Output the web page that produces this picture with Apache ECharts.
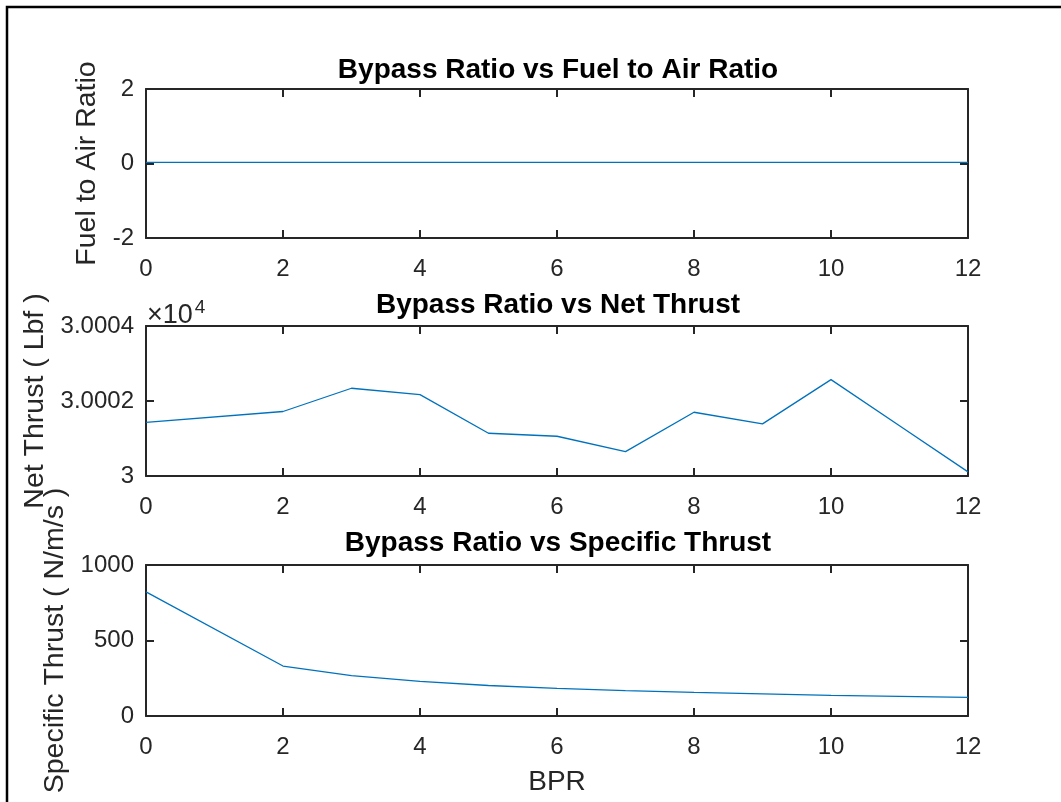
<!DOCTYPE html>
<html>
<head>
<meta charset="utf-8">
<title>Bypass Ratio plots</title>
<script src="https://cdn.jsdelivr.net/npm/echarts@6/dist/echarts.min.js"></script>
<style>
  html, body { margin: 0; padding: 0; background: #fff; }
  #chart { width: 1061px; height: 802px; }
</style>
</head>
<body>
<div id="chart"></div>
<script>
// BPR values shared by all three subplots
const bpr = [0, 2, 3, 4, 5, 6, 7, 8, 9, 10, 11, 12];
const fuelAirRatio = [0.028, 0.028, 0.028, 0.028, 0.028, 0.028, 0.028, 0.028, 0.028, 0.028, 0.028, 0.028];
const netThrust = [30001.43, 30001.72, 30002.34, 30002.17, 30001.14, 30001.06, 30000.65, 30001.70, 30001.39, 30002.57, 30001.34, 30000.11];
const specificThrust = [822, 331, 268, 229, 202, 183, 168, 156, 146, 137, 130, 124];

const titles = ['Bypass Ratio vs Fuel to Air Ratio', 'Bypass Ratio vs Net Thrust', 'Bypass Ratio vs Specific Thrust'];
const yNames = ['Fuel to Air Ratio', 'Net Thrust ( Lbf )', 'Specific Thrust ( N/m/s )'];
const xName = 'BPR';
const netTickLabels = { 30000: '3', 30002: '3.0002', 30004: '3.0004' };

const axisColor = '#262626';
const lineColor = '#0072BD';
const font = 'Liberation Sans, Arial, Helvetica, sans-serif';

const grids = [
    { left: 146, top: 89, width: 822, height: 149 },
    { left: 146, top: 326, width: 822, height: 150 },
    { left: 146, top: 565, width: 822, height: 151 }
];
const yRanges = [
    { min: -2, max: 2, interval: 2 },
    { min: 30000, max: 30004, interval: 2 },
    { min: 0, max: 1000, interval: 500 }
];
const titleTops = [51, 286, 524];
const nameGaps = [44, 96, 72];

const lineStyle = { color: axisColor, width: 2 };
const tickStyle = { show: true, inside: true, length: 8, lineStyle: { color: axisColor, width: 2 } };

const xAxes = [];
const yAxes = [];
const series = [];
const ys = [fuelAirRatio, netThrust, specificThrust];

grids.forEach((g, i) => {
    xAxes.push({
        type: 'value', gridIndex: i, position: 'bottom',
        min: 0, max: 12, interval: 2,
        axisLine: { show: true, onZero: false, lineStyle },
        axisTick: tickStyle,
        splitLine: { show: false },
        axisLabel: { color: axisColor, fontSize: 24, fontFamily: font, margin: 19 },
        name: i === 2 ? xName : '',
        nameLocation: 'middle', nameGap: 52,
        nameTextStyle: { color: axisColor, fontSize: 28, fontFamily: font }
    });
    xAxes.push({
        type: 'value', gridIndex: i, position: 'top',
        min: 0, max: 12, interval: 2,
        axisLine: { show: true, onZero: false, lineStyle },
        axisTick: tickStyle,
        splitLine: { show: false },
        axisLabel: { show: false }
    });
    yAxes.push({
        type: 'value', gridIndex: i, position: 'left',
        min: yRanges[i].min, max: yRanges[i].max, interval: yRanges[i].interval,
        axisLine: { show: true, onZero: false, lineStyle },
        axisTick: tickStyle,
        splitLine: { show: false },
        axisLabel: {
            color: axisColor, fontSize: 24, fontFamily: font, margin: 12,
            formatter: i === 1 ? (v) => netTickLabels[v] || '' : (v) => String(v)
        },
        name: yNames[i],
        nameLocation: 'middle', nameGap: nameGaps[i],
        nameTextStyle: { color: axisColor, fontSize: 28.5, fontFamily: font }
    });
    yAxes.push({
        type: 'value', gridIndex: i, position: 'right',
        min: yRanges[i].min, max: yRanges[i].max, interval: yRanges[i].interval,
        axisLine: { show: true, onZero: false, lineStyle },
        axisTick: tickStyle,
        splitLine: { show: false },
        axisLabel: { show: false }
    });
    series.push({
        type: 'line',
        xAxisIndex: 2 * i, yAxisIndex: 2 * i,
        data: bpr.map((b, k) => [b, ys[i][k]]),
        showSymbol: false,
        lineStyle: { color: lineColor, width: 1.3 },
        z: 1,
        silent: true
    });
});

const chart = echarts.init(document.getElementById('chart'));
chart.setOption({
    backgroundColor: '#fff',
    animation: false,
    title: titles.map((t, i) => ({
        text: t,
        left: 553,
        textAlign: 'center',
        top: titleTops[i],
        textStyle: { color: '#000', fontSize: 28, fontWeight: 'bold', fontFamily: font }
    })),
    grid: grids,
    xAxis: xAxes,
    yAxis: yAxes,
    series: series,
    graphic: [
        {
            type: 'rect',
            shape: { x: 7, y: 7, width: 1200, height: 1000 },
            style: { fill: 'none', stroke: '#000', lineWidth: 2.5 },
            silent: true
        },
        {
            type: 'text',
            left: 147,
            top: 298,
            style: {
                text: '×10{sup|4}',
                fill: axisColor,
                font: '27px ' + font,
                rich: { sup: { fontSize: 19, fontFamily: font, fill: axisColor, verticalAlign: 'top', padding: [0, 0, 16, 2] } }
            }
        }
    ]
});
</script>
</body>
</html>
